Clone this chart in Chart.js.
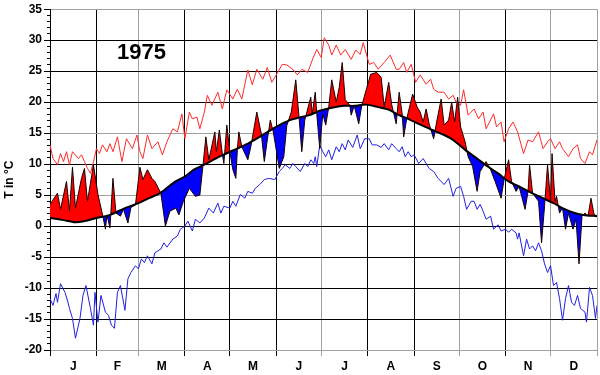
<!DOCTYPE html>
<html>
<head>
<meta charset="utf-8">
<script src="https://cdn.jsdelivr.net/npm/chart.js@4.4.1/dist/chart.umd.min.js"></script>
<style>
  html, body { margin: 0; padding: 0; background: #fff; }
  #wrap { position: relative; width: 600px; height: 375px; }
  #yr { position: absolute; left: 117px; top: 39px; font: bold 22px "Liberation Sans", Arial, sans-serif; color: #000; }
</style>
</head>
<body>
<div id="wrap">
  <canvas id="c" width="600" height="375"></canvas>
  <div id="yr">1975</div>
</div>
<script>
// ---- Data (day of year 0..365, temperature in °C) ----
const monthStarts = [0, 31, 59, 90, 120, 151, 181, 212, 243, 273, 304, 334, 365];
const monthLabels = ['J', 'F', 'M', 'A', 'M', 'J', 'J', 'A', 'S', 'O', 'N', 'D'];
const yMin = -20, yMax = 35;

// long-term mean (black line)
const climDays = [0, 8, 17, 23, 31, 40, 50, 59, 66, 74, 83, 90, 96, 103, 113, 122, 132, 142, 150, 160, 166, 173, 180, 188, 196, 203, 211, 219, 226, 233, 239, 246, 255, 263, 269, 277, 285, 291, 299, 306, 313, 321, 329, 336, 342, 349, 356, 365];
const climTemp = [1.3, 1.0, 0.6, 0.8, 1.3, 1.8, 2.9, 3.7, 4.5, 5.4, 7.1, 8.0, 9.1, 9.9, 11.2, 12.2, 13.3, 14.7, 15.9, 17.1, 17.5, 17.9, 18.6, 19.1, 19.4, 19.4, 19.6, 19.2, 18.8, 17.9, 17.3, 16.5, 15.5, 14.7, 13.9, 12.3, 10.9, 9.8, 8.5, 7.2, 6.4, 5.4, 4.5, 3.7, 2.9, 2.2, 1.8, 1.6];

// daily mean temperature 1975 (filled red above / blue below the long-term mean)
const dayDays = [0, 5, 7, 11, 13, 15, 17, 21, 23, 25, 29, 32, 35, 37, 38, 40, 42, 44, 47, 49, 52, 54, 57, 60, 62, 65, 68, 70, 74, 77, 80, 84, 86, 89, 93, 97, 100, 102, 104, 106, 110, 111, 113, 115, 116, 118, 120, 122, 124, 125, 126, 128, 132, 134, 138, 141, 143, 145, 147, 149, 153, 156, 158, 161, 164, 166, 168, 170, 174, 175, 177, 178, 180, 182, 184, 186, 188, 191, 193, 195, 197, 200, 201, 203, 206, 208, 211, 214, 218, 221, 223, 226, 228, 231, 233, 235, 236, 238, 242, 245, 247, 249, 251, 253, 256, 258, 261, 263, 266, 268, 270, 272, 274, 277, 279, 282, 285, 287, 291, 294, 297, 301, 303, 306, 308, 311, 313, 317, 319, 320, 322, 326, 328, 330, 332, 334, 335, 337, 338, 340, 342, 344, 346, 349, 351, 353, 355, 357, 359, 361, 363, 365];
const dayTemp = [3.5, 5.3, 2.7, 7.2, 2.4, 9.5, 2.9, 7.7, 9.3, 4.0, 9.9, 5.1, 1.9, -0.5, 1.8, -0.3, 7.7, 2.1, 1.6, 2.7, 0.5, 3.0, 3.4, 9.5, 7.5, 9.1, 7.7, 7.2, 5.3, 0.0, 2.4, 2.9, 1.8, 4.0, 6.1, 4.8, 5.0, 9.6, 14.4, 10.7, 15.2, 12.0, 15.5, 11.7, 10.1, 16.3, 12.0, 9.1, 7.7, 12.3, 15.2, 12.8, 10.7, 12.8, 18.4, 14.9, 10.4, 13.9, 17.1, 15.2, 9.3, 11.2, 16.2, 18.4, 23.6, 18.1, 12.0, 17.1, 20.8, 18.1, 21.6, 18.1, 12.5, 18.1, 16.3, 19.2, 23.6, 20.0, 22.4, 26.4, 20.4, 19.5, 17.9, 19.4, 16.5, 19.4, 22.0, 24.5, 24.8, 24.0, 19.2, 23.2, 19.6, 16.5, 21.6, 18.1, 14.4, 17.3, 21.3, 19.2, 18.4, 16.8, 18.9, 16.5, 14.1, 16.8, 20.5, 16.3, 17.1, 20.0, 16.8, 20.8, 16.0, 13.6, 11.2, 9.6, 5.6, 8.8, 10.4, 9.1, 7.2, 4.5, 7.5, 10.7, 7.2, 5.6, 6.4, 2.7, 5.6, 9.9, 5.3, 4.0, -2.7, 3.2, 9.9, 4.0, 11.7, 4.0, 4.8, 2.1, 2.9, -0.5, 2.1, -0.5, 1.1, -6.1, 1.6, 2.1, 1.6, 4.5, 1.9, 1.6];

// absolute maximum (red thin line)
const maxDays = [0, 2, 5, 7, 9, 11, 13, 15, 19, 21, 23, 25, 27, 29, 31, 33, 35, 38, 40, 42, 45, 48, 51, 55, 58, 60, 62, 65, 68, 72, 75, 78, 82, 85, 88, 90, 93, 95, 98, 100, 103, 105, 108, 112, 115, 118, 122, 125, 128, 132, 135, 138, 142, 145, 148, 152, 155, 158, 162, 165, 168, 172, 175, 178, 181, 183, 186, 188, 191, 194, 197, 201, 204, 207, 209, 213, 216, 219, 223, 227, 231, 233, 236, 238, 241, 244, 247, 251, 254, 256, 259, 263, 266, 269, 271, 274, 276, 279, 283, 286, 289, 291, 296, 298, 301, 303, 306, 309, 312, 316, 319, 322, 326, 329, 332, 334, 337, 340, 342, 346, 349, 352, 354, 357, 360, 362, 365];
const maxTemp = [13.1, 10.9, 9.9, 11.7, 10.4, 12.0, 9.9, 12.0, 10.9, 11.5, 10.4, 9.3, 8.5, 10.4, 12.5, 11.7, 13.1, 12.0, 13.3, 12.0, 14.4, 10.4, 14.1, 12.5, 14.7, 12.0, 10.9, 14.7, 12.5, 13.6, 11.5, 13.6, 15.7, 15.2, 18.1, 14.1, 18.4, 17.3, 17.6, 15.7, 18.4, 21.1, 19.5, 21.6, 18.9, 22.0, 20.5, 22.1, 20.5, 25.2, 22.8, 25.3, 23.7, 25.6, 23.2, 24.8, 26.1, 26.0, 25.3, 24.4, 25.3, 24.8, 26.8, 28.5, 27.2, 30.4, 29.2, 27.6, 29.2, 27.6, 28.5, 26.9, 28.4, 27.7, 29.6, 26.1, 26.4, 25.3, 26.4, 27.6, 25.3, 25.3, 26.4, 24.8, 26.1, 23.2, 24.4, 22.9, 23.7, 22.1, 21.6, 21.6, 20.5, 21.1, 20.0, 19.5, 22.0, 17.9, 18.9, 17.3, 18.4, 15.7, 18.1, 16.0, 16.8, 13.6, 15.7, 16.8, 15.2, 11.7, 13.9, 13.6, 15.2, 12.5, 13.6, 14.1, 12.5, 13.6, 12.5, 11.2, 12.5, 13.1, 10.9, 10.1, 12.0, 11.5, 13.9];

// absolute minimum (blue thin line)
const minDays = [0, 2, 4, 5, 7, 10, 12, 13, 15, 17, 20, 22, 24, 27, 29, 30, 32, 34, 37, 39, 41, 43, 45, 47, 50, 52, 54, 57, 59, 61, 63, 65, 68, 70, 74, 76, 78, 82, 85, 87, 90, 92, 95, 97, 100, 103, 106, 109, 112, 114, 116, 120, 122, 124, 127, 130, 132, 135, 137, 140, 143, 146, 150, 153, 155, 157, 160, 162, 164, 167, 170, 172, 174, 176, 177, 178, 180, 182, 184, 186, 188, 191, 193, 195, 197, 199, 202, 205, 207, 210, 213, 215, 218, 221, 223, 226, 228, 231, 233, 235, 237, 239, 241, 243, 246, 249, 253, 256, 259, 263, 266, 269, 271, 274, 276, 278, 281, 283, 285, 287, 289, 291, 294, 296, 299, 301, 304, 306, 308, 311, 312, 313, 316, 318, 320, 322, 324, 326, 328, 330, 332, 334, 336, 338, 340, 342, 344, 346, 348, 350, 352, 354, 357, 358, 360, 362, 364, 365];
const minTemp = [-11.7, -12.8, -10.9, -12.3, -9.3, -10.7, -12.3, -13.3, -14.9, -18.1, -14.9, -11.2, -9.6, -13.3, -16.0, -10.7, -15.5, -11.2, -13.9, -14.4, -16.0, -16.5, -10.7, -9.6, -13.6, -8.5, -7.5, -6.4, -6.9, -5.3, -5.9, -4.8, -6.1, -4.3, -3.7, -2.7, -3.4, -2.1, -1.6, -0.5, 0.0, 0.8, -0.8, 1.1, 0.5, 1.3, 2.9, 2.1, 3.7, 2.1, 3.2, 2.9, 4.0, 3.2, 5.1, 4.5, 5.6, 5.3, 6.1, 6.7, 7.5, 7.7, 7.5, 8.8, 9.3, 9.9, 9.3, 10.1, 9.6, 8.8, 10.1, 9.6, 10.7, 10.1, 11.2, 9.6, 13.1, 12.0, 11.2, 12.3, 10.7, 12.8, 12.0, 13.3, 12.3, 13.9, 12.7, 14.7, 12.5, 14.1, 14.1, 13.1, 13.1, 12.7, 13.3, 12.3, 13.3, 12.5, 12.0, 12.8, 11.2, 12.0, 11.2, 11.5, 10.1, 10.9, 9.3, 8.8, 7.7, 6.7, 7.7, 4.8, 6.1, 6.4, 4.8, 2.7, 4.0, 4.0, 2.7, 3.5, 2.4, 1.1, 1.6, -0.5, 0.2, -0.8, -0.5, -1.0, -0.5, -1.1, -2.1, -1.1, -4.8, -2.1, -3.7, -3.2, -4.0, -2.7, -4.0, -6.1, -7.5, -6.4, -9.6, -9.1, -11.7, -15.2, -11.7, -9.6, -12.3, -12.8, -11.2, -13.3, -13.9, -15.5, -9.9, -11.2, -14.9, -12.8];

// ---- helpers ----
const pts = (xs, ys) => xs.map((x, i) => ({ x: x, y: ys[i] }));
const monthMids = monthLabels.map((_, i) => (monthStarts[i] + monthStarts[i + 1]) / 2);
const grayDays = [59, 181, 273, 334, 365];
const grayTemps = [-20, 5, 15, 35];
const FONT = "'Liberation Sans', Arial, sans-serif";

new Chart(document.getElementById('c'), {
  type: 'line',
  data: {
    datasets: [
      { label: 'Mittel', data: pts(climDays, climTemp), borderColor: '#000', borderWidth: 2, pointRadius: 0, fill: false, tension: 0.3 },
      { label: '1975', data: pts(dayDays, dayTemp), borderColor: '#1a0000', borderWidth: 1, pointRadius: 0,
        fill: { target: 0, above: '#ff0000', below: '#0000ff' } },
      { label: 'Max', data: pts(maxDays, maxTemp), borderColor: '#ff2a2a', borderWidth: 1, pointRadius: 0, fill: false },
      { label: 'Min', data: pts(minDays, minTemp), borderColor: '#2020e0', borderWidth: 1, pointRadius: 0, fill: false }
    ]
  },
  options: {
    responsive: false,
    animation: false,
    layout: { padding: { top: 0, right: 1, left: 0, bottom: 0 } },
    plugins: { legend: { display: false }, tooltip: { enabled: false } },
    scales: {
      x: {
        type: 'linear', min: 0, max: 365,
        afterBuildTicks: (s) => {
          const t = monthStarts.map(v => ({ value: v })).concat(monthMids.map(v => ({ value: v })));
          t.sort((a, b) => a.value - b.value);
          s.ticks = t;
        },
        afterFit: (s) => { s.height = 25; },
        ticks: {
          autoSkip: false, maxRotation: 0, padding: 3, color: '#000',
          font: { family: FONT, size: 12, weight: 'bold' },
          callback: (v) => { const i = monthMids.indexOf(v); return i >= 0 ? monthLabels[i] : ''; }
        },
        grid: {
          tickLength: 6,
          color: (c) => monthMids.indexOf(c.tick.value) >= 0 ? 'rgba(0,0,0,0)' : (grayDays.indexOf(c.tick.value) >= 0 ? '#a0a0a0' : '#000'),
          tickColor: (c) => monthMids.indexOf(c.tick.value) >= 0 ? 'rgba(0,0,0,0)' : (grayDays.indexOf(c.tick.value) >= 0 ? '#a0a0a0' : '#000')
        },
        border: { color: '#a0a0a0' }
      },
      y: {
        type: 'linear', min: yMin, max: yMax,
        afterFit: (s) => { s.width = 50; },
        ticks: {
          stepSize: 1, autoSkip: false, padding: 2, color: '#000',
          font: { family: FONT, size: 12, weight: 'bold' },
          callback: (v) => (v % 5 === 0 ? String(v) : '')
        },
        grid: {
          tickLength: 6,
          color: (c) => c.tick.value % 5 !== 0 ? 'rgba(0,0,0,0)' : (grayTemps.indexOf(c.tick.value) >= 0 ? '#a0a0a0' : '#000'),
          tickColor: '#000',
          tickBorderDash: (c) => c.tick.value % 5 !== 0 ? [0, 3, 3, 20] : []
        },
        border: { color: '#000' },
        title: { display: true, text: 'T in °C', color: '#000', font: { family: FONT, size: 12, weight: 'bold' }, padding: { top: 2, bottom: 0 } }
      }
    }
  }
});
</script>
</body>
</html>
